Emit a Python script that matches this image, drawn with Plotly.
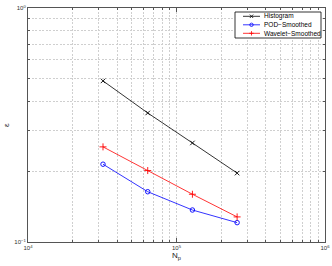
import plotly.graph_objects as go

N_p = [32000, 64000, 128000, 256000]
histogram = [0.488, 0.356, 0.265, 0.197]
pod_smoothed = [0.215, 0.164, 0.137, 0.121]
wavelet_smoothed = [0.255, 0.202, 0.160, 0.128]

series_names = ["Histogram", "POD−Smoothed", "Wavelet−Smoothed"]
series_colors = ["#000000", "#0000ff", "#ff0000"]

x_decades = [1e4, 1e5, 1e6]
x_decade_labels = ["10<sup>4</sup>", "10<sup>5</sup>", "10<sup>6</sup>"]
y_decades = [0.1, 1.0]
y_decade_labels = ["10<sup>−1</sup>", "10<sup>0</sup>"]

def minor_vals(decades):
    v = []
    for d in decades[:-1]:
        for m in range(2, 10):
            v.append(d * m)
    return v

W, H = 332, 266
L, R, T, B = 28, 7, 8, 24
PW, PH = W - L - R, H - T - B

def px(x):
    return (x - L) / PW

def py(y):
    return 1 - (y - T) / PH

GRID = "#cfcfcf"
DASH = "2px,1.5px"

fig = go.Figure()
symbols = ["x-thin-open", "circle-open", "cross-thin-open"]
sizes = [4.5, 4.5, 5]
for name, col, ys, sym, sz in zip(series_names, series_colors,
                                  [histogram, pod_smoothed, wavelet_smoothed], symbols, sizes):
    fig.add_trace(go.Scatter(x=N_p, y=ys, name=name, mode="lines+markers", showlegend=False,
                             line=dict(color=col, width=0.8),
                             marker=dict(symbol=sym, size=sz, color=col, line=dict(width=0.9, color=col))))

axis_common = dict(showline=True, linecolor="#555555", linewidth=1, mirror="ticks",
                   ticks="inside", ticklen=4, tickcolor="#555555", tickwidth=0.8,
                   showgrid=True, gridcolor=GRID, griddash=DASH, gridwidth=0.8,
                   zeroline=False, automargin=False,
                   tickfont=dict(size=6, color="#333333"))

fig.update_xaxes(type="log", range=[4, 6], tickmode="array", tickvals=x_decades, ticktext=x_decade_labels,
                 minor=dict(tickmode="array", tickvals=minor_vals(x_decades), ticks="inside", ticklen=2,
                            tickcolor="#555555", showgrid=True, gridcolor=GRID, griddash=DASH, gridwidth=0.8),
                 **axis_common)
fig.update_yaxes(type="log", range=[-1, 0], tickmode="array", tickvals=y_decades, ticktext=y_decade_labels,
                 minor=dict(tickmode="array", tickvals=minor_vals(y_decades), ticks="inside", ticklen=2,
                            tickcolor="#555555", showgrid=True, gridcolor=GRID, griddash=DASH, gridwidth=0.8),
                 **axis_common)

annotations = [
    dict(text="N<sub>p</sub>", x=px(176), y=py(256), xref="paper", yref="paper", showarrow=False,
         font=dict(size=8, color="#222222"), xanchor="center", yanchor="middle"),
    dict(text="ε", x=px(6), y=py(125), xref="paper", yref="paper", showarrow=False, textangle=-90,
         font=dict(size=8, color="#222222"), xanchor="center", yanchor="middle"),
]

shapes = [dict(type="rect", xref="paper", yref="paper", x0=px(235), x1=px(321), y0=py(38), y1=py(12),
               line=dict(color="#000000", width=0.8), fillcolor="white", layer="above")]
rows = [16.3, 24.8, 33.3]
for i, (name, col, ry) in enumerate(zip(series_names, series_colors, rows)):
    shapes.append(dict(type="line", xref="paper", yref="paper", x0=px(243), x1=px(260), y0=py(ry), y1=py(ry),
                       line=dict(color=col, width=0.8), layer="above"))
    cx, r = 251.5, 1.7
    if i == 0:
        shapes.append(dict(type="line", xref="paper", yref="paper", x0=px(cx - r), x1=px(cx + r),
                           y0=py(ry - r), y1=py(ry + r), line=dict(color=col, width=0.8), layer="above"))
        shapes.append(dict(type="line", xref="paper", yref="paper", x0=px(cx - r), x1=px(cx + r),
                           y0=py(ry + r), y1=py(ry - r), line=dict(color=col, width=0.8), layer="above"))
    elif i == 1:
        shapes.append(dict(type="circle", xref="paper", yref="paper", x0=px(cx - r), x1=px(cx + r),
                           y0=py(ry + r), y1=py(ry - r), line=dict(color=col, width=0.8), layer="above"))
    else:
        shapes.append(dict(type="line", xref="paper", yref="paper", x0=px(cx - 2.2), x1=px(cx + 2.2),
                           y0=py(ry), y1=py(ry), line=dict(color=col, width=0.8), layer="above"))
        shapes.append(dict(type="line", xref="paper", yref="paper", x0=px(cx), x1=px(cx),
                           y0=py(ry - 2.2), y1=py(ry + 2.2), line=dict(color=col, width=0.8), layer="above"))
    annotations.append(dict(text=name, x=px(262), y=py(ry), xref="paper", yref="paper", showarrow=False,
                            xanchor="left", yanchor="middle", font=dict(size=6.5, color="#000000")))

fig.update_layout(width=W, height=H, margin=dict(l=L, r=R, t=T, b=B),
                  paper_bgcolor="white", plot_bgcolor="white", showlegend=False,
                  font=dict(family="Liberation Sans, Arial, sans-serif", size=7, color="#222222"),
                  shapes=shapes, annotations=annotations)

fig.write_html("out.html", config={"displayModeBar": False},
               post_script="document.body.style.margin='0';document.body.style.overflow='hidden';")
